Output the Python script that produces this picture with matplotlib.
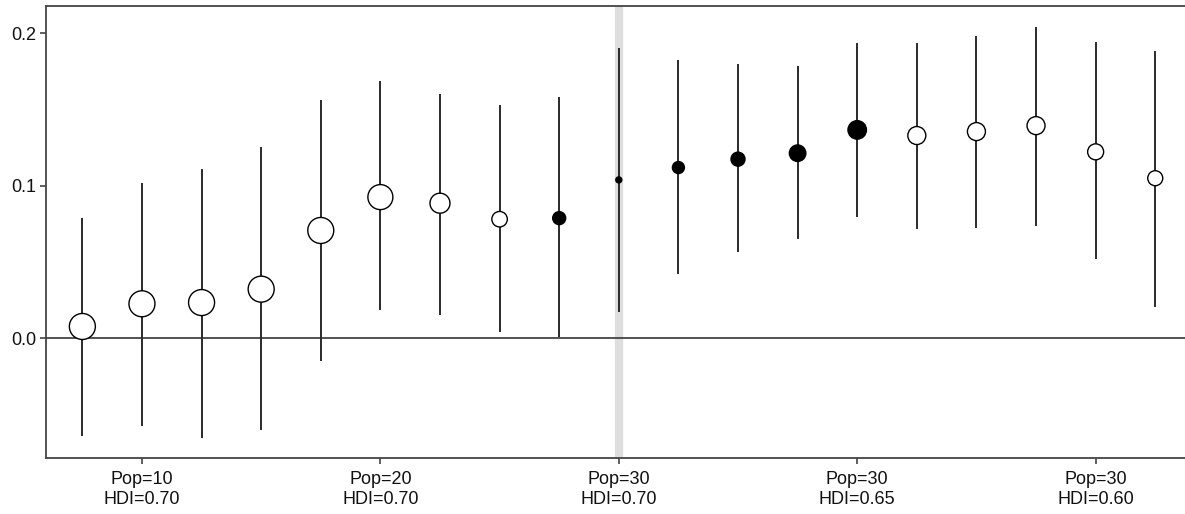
import matplotlib
matplotlib.use("Agg")
import matplotlib.pyplot as plt

# estimates
xpos = list(range(1, 20))
est = [0.0076, 0.0225, 0.0233, 0.0321, 0.0706, 0.0925, 0.0885, 0.0780, 0.0787, 0.1038,
       0.1119, 0.1174, 0.1213, 0.1366, 0.1329, 0.1355, 0.1394, 0.1222, 0.1049]
lower = [-0.0645, -0.0575, -0.0656, -0.0606, -0.0153, 0.0181, 0.0153, 0.0037, 0.0004, 0.0174,
         0.0422, 0.0568, 0.0649, 0.0793, 0.0715, 0.0725, 0.0736, 0.0520, 0.0207]
upper = [0.0791, 0.1020, 0.1108, 0.1256, 0.1563, 0.1689, 0.1600, 0.1530, 0.1580, 0.1906,
         0.1825, 0.1797, 0.1788, 0.1934, 0.1934, 0.1984, 0.2043, 0.1945, 0.1886]
filled = [False] * 8 + [True] * 6 + [False] * 5

# marker diameters in pixels, as drawn
diam_px = [26, 26, 26, 26, 26, 25, 20, 15.5, 13, 6, 12, 14, 16.5, 18.5, 18, 18, 18, 16, 15]

tick_pos = [2, 6, 10, 14, 18]
tick_labels = ["Pop=10\nHDI=0.70", "Pop=20\nHDI=0.70", "Pop=30\nHDI=0.70",
               "Pop=30\nHDI=0.65", "Pop=30\nHDI=0.60"]
highlight_x = 10

plt.rcParams['font.family'] = ['Liberation Sans', 'DejaVu Sans']

fig = plt.figure(figsize=(11.85, 5.14), dpi=100)
W, H = 1185, 514
ax = fig.add_axes([46 / W, 56 / H, 1145 / W, 452 / H])

line_col = "#2a2a2a"
ax.axvline(highlight_x, color="#dedede", lw=6, zorder=0)
ax.axhline(0, color="#444444", lw=1.3, zorder=1)
ax.vlines(xpos, lower, upper, color=line_col, lw=1.4, zorder=2)

sizes = [(d * 0.72) ** 2 for d in diam_px]
faces = ["black" if f else "white" for f in filled]
ax.scatter(xpos, est, s=sizes, facecolors=faces, edgecolors="black", linewidths=1.0, zorder=3)

ax.set_xlim(0.39, 19.6)
ax.set_ylim(-0.0787, 0.2179)
ax.set_yticks([0.0, 0.1, 0.2])
ax.set_yticklabels(["0.0", "0.1", "0.2"])
ax.set_xticks(tick_pos)
ax.set_xticklabels(tick_labels, linespacing=1.3)

for s in ax.spines.values():
    s.set_color("#444444")
    s.set_linewidth(1.3)
ax.tick_params(axis="x", length=4, width=1.2, color="#444444", pad=5, labelsize=13, labelcolor="#111111")
ax.tick_params(axis="y", length=4, width=1.2, color="#444444", pad=3, labelsize=13, labelcolor="#111111")

fig.savefig("out.png", dpi=100)
